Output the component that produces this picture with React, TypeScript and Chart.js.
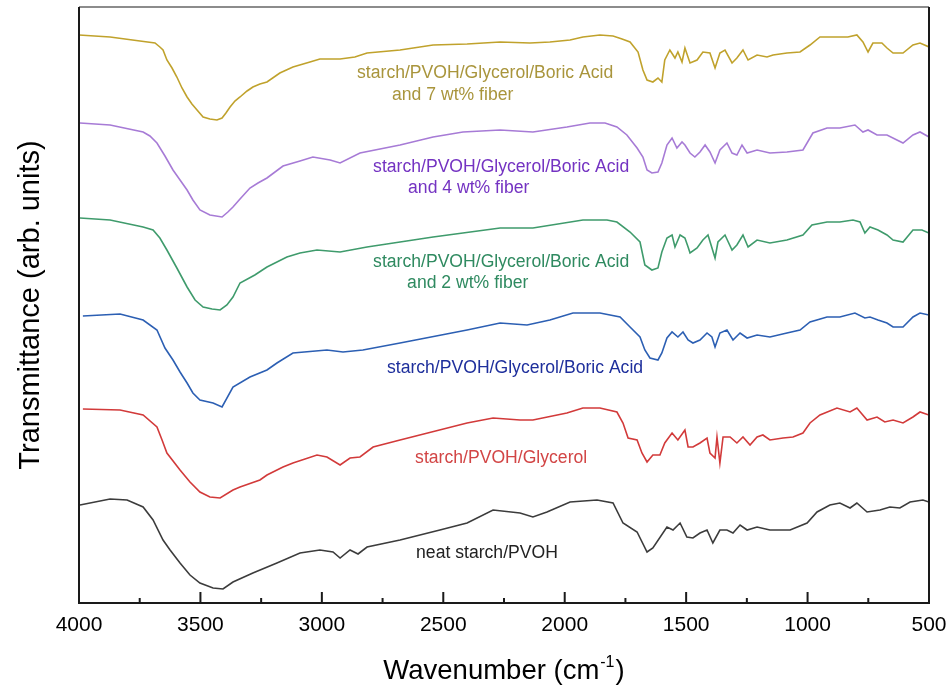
import React, { useEffect, useRef } from "react";
import { Chart, registerables } from "chart.js";

Chart.register(...registerables);

const FONT = '"Liberation Sans", Arial, Helvetica, sans-serif';

// x range / tick labels (wavenumber, cm^-1)
const xMin = 500;
const xMax = 4000;
const majorTicks = [4000, 3500, 3000, 2500, 2000, 1500, 1000, 500];
const tickLabels = ["4000", "3500", "3000", "2500", "2000", "1500", "1000", "500"];
const minorTicks = [3750, 3250, 2750, 2250, 1750, 1250, 750];

// Each series: [wavenumber, transmittance (arb. units, offset stacked)]
const fiber7: [number, number][] = [
  [4000, 568], [3872, 566], [3749, 562], [3687, 560], [3667, 556], [3654, 553], [3638, 543], [3617, 535],
  [3597, 526], [3576, 515], [3555, 506], [3535, 499], [3514, 493], [3489, 486], [3461, 484], [3432, 483],
  [3411, 485], [3395, 490], [3378, 496], [3358, 502], [3337, 506], [3308, 512], [3284, 516], [3255, 519],
  [3226, 521], [3173, 530], [3119, 536], [3049, 541], [3008, 544], [2925, 544], [2864, 546], [2814, 550],
  [2678, 553], [2542, 558], [2402, 559], [2266, 561], [2143, 560], [2061, 561], [1978, 563], [1925, 566],
  [1855, 568], [1801, 567], [1764, 564], [1731, 561], [1698, 551], [1678, 533],
  [1661, 523], [1637, 521], [1616, 525], [1600, 521], [1588, 543], [1567, 553], [1546, 545], [1534, 551],
  [1517, 541], [1505, 555], [1484, 540], [1455, 543], [1431, 551], [1402, 550], [1381, 535], [1361, 550],
  [1340, 553], [1311, 540], [1291, 545], [1266, 553], [1245, 543], [1208, 548], [1167, 546], [1142, 548],
  [1085, 550], [1031, 551], [990, 558], [949, 566], [895, 566], [834, 566], [797, 568], [772, 561],
  [751, 551], [731, 560], [694, 560], [673, 555], [648, 550], [607, 550], [566, 558], [537, 560], [500, 556],
];

const fiber4: [number, number][] = [
  [3996, 480], [3872, 478], [3736, 471], [3708, 467], [3679, 460], [3646, 447], [3613, 433], [3584, 423],
  [3555, 413], [3531, 403], [3502, 393], [3461, 388], [3411, 386], [3387, 391], [3366, 396], [3337, 404],
  [3296, 415], [3263, 420], [3226, 425], [3160, 437], [3090, 442], [3037, 446], [2966, 443],
  [2925, 440], [2843, 450], [2678, 458], [2542, 466], [2419, 471], [2266, 473], [2131, 471], [1991, 476],
  [1896, 480], [1834, 480], [1785, 476], [1744, 468], [1702, 455], [1678, 446], [1661, 433], [1641, 430],
  [1616, 431], [1600, 440], [1579, 458], [1558, 465], [1538, 455], [1517, 461], [1505, 458], [1484, 450],
  [1464, 446], [1443, 451], [1422, 458], [1402, 451], [1381, 440], [1361, 453], [1332, 460], [1311, 450],
  [1291, 448], [1270, 458], [1249, 450], [1208, 453], [1155, 450], [1085, 451], [1019, 453], [978, 470],
  [920, 475], [867, 475], [805, 478], [772, 471], [751, 473], [714, 468], [673, 468], [632, 463],
  [607, 460], [566, 468], [537, 471], [500, 466],
];

const fiber2: [number, number][] = [
  [3996, 385], [3872, 383], [3736, 376], [3695, 373], [3667, 365], [3638, 353], [3597, 335], [3555, 316],
  [3522, 303], [3489, 296], [3452, 294], [3419, 293], [3391, 298], [3366, 306], [3337, 320], [3276, 328],
  [3226, 336], [3144, 346], [3090, 350], [3020, 353], [2925, 351],
  [2814, 356], [2542, 366], [2266, 375], [2131, 375], [1925, 383], [1826, 383], [1785, 381], [1731, 371],
  [1690, 361], [1670, 338], [1641, 333], [1616, 335], [1600, 351], [1579, 365], [1558, 368], [1546, 356],
  [1525, 368], [1505, 365], [1492, 356], [1484, 350], [1455, 355], [1431, 363], [1410, 368], [1381, 345],
  [1369, 361], [1340, 368], [1311, 353], [1291, 358], [1266, 368], [1245, 356], [1208, 363], [1155, 360],
  [1085, 363], [1019, 368], [982, 378], [920, 381], [867, 381], [813, 383], [784, 381], [764, 370],
  [743, 376], [710, 373], [673, 368], [648, 363], [607, 361], [566, 373], [529, 373], [500, 370],
];

const boricAcid: [number, number][] = [
  [3984, 287], [3831, 289], [3736, 283], [3679, 273], [3646, 255], [3613, 243], [3584, 231], [3555, 220],
  [3531, 210], [3502, 203], [3448, 200],
  [3411, 196], [3366, 216], [3296, 226], [3226, 233], [3185, 240], [3119, 250], [2979, 253], [2913, 251],
  [2831, 253], [2678, 260], [2402, 273], [2266, 280], [2155, 278], [2061, 283], [1966, 290], [1855, 290],
  [1772, 286], [1731, 276], [1690, 266], [1670, 253], [1649, 245], [1616, 243], [1600, 250], [1579, 265],
  [1558, 271], [1534, 266], [1513, 271], [1492, 263], [1472, 260], [1443, 263], [1414, 270], [1394, 266],
  [1381, 256], [1361, 270], [1332, 273], [1307, 263], [1278, 270], [1249, 265], [1208, 268], [1155, 266],
  [1085, 270], [1031, 273], [990, 281], [920, 286], [867, 286], [805, 290], [764, 285], [743, 286],
  [710, 283], [673, 280], [648, 276], [607, 276], [566, 286], [537, 290], [500, 288],
];

const glycerol: [number, number][] = [
  [3984, 194], [3831, 193], [3736, 188], [3679, 176], [3658, 163], [3638, 150], [3584, 133], [3543, 121],
  [3502, 111], [3461, 106], [3419, 105],
  [3366, 113], [3337, 116], [3255, 123], [3226, 128], [3160, 136], [3119, 140], [3020, 148], [2979, 146],
  [2925, 138], [2884, 145], [2843, 146], [2789, 156], [2678, 163], [2402, 180], [2295, 185], [2184, 183],
  [2131, 183], [1991, 190], [1925, 195], [1855, 195], [1785, 191], [1760, 180], [1739, 165], [1702, 163],
  [1682, 150], [1661, 141], [1637, 148], [1608, 148], [1588, 160], [1558, 170], [1534, 163], [1505, 173],
  [1492, 156], [1472, 156], [1443, 160], [1414, 165], [1402, 150], [1381, 145], [1373, 166], [1361, 140],
  [1348, 166], [1319, 166], [1291, 160], [1266, 166], [1237, 158], [1208, 166], [1184, 168], [1155, 163],
  [1101, 165], [1060, 166], [1019, 170], [990, 180], [949, 188], [879, 195], [825, 191], [797, 195],
  [755, 183], [714, 186], [682, 181], [648, 183], [607, 180], [566, 186], [537, 191], [500, 188],
];

const neat: [number, number][] = [
  [3996, 98], [3872, 104], [3802, 103], [3736, 96], [3695, 83], [3654, 63], [3625, 53], [3584, 40],
  [3543, 28], [3502, 20],
  [3448, 15], [3407, 14], [3366, 21], [3284, 30], [3185, 40], [3090, 50], [3008, 53], [2954, 51],
  [2925, 45], [2884, 53], [2851, 49], [2814, 56], [2678, 63], [2514, 73], [2402, 80], [2295, 93],
  [2184, 90], [2131, 86], [2073, 91], [1978, 101], [1867, 103], [1801, 100], [1760, 80], [1702, 71],
  [1661, 51], [1637, 55], [1579, 76], [1554, 73], [1525, 80], [1497, 66], [1472, 65], [1443, 70],
  [1414, 73], [1390, 60], [1361, 73], [1332, 73], [1307, 70], [1278, 78], [1249, 73], [1208, 76],
  [1155, 73], [1072, 73], [1002, 80], [961, 91], [908, 98], [867, 100], [825, 95], [797, 100],
  [755, 91], [702, 93], [661, 96], [620, 95], [578, 101], [525, 103], [500, 101],
];

const seriesNames = [
  "starch/PVOH/Glycerol/Boric Acid and 7 wt% fiber",
  "starch/PVOH/Glycerol/Boric Acid and 4 wt% fiber",
  "starch/PVOH/Glycerol/Boric Acid and 2 wt% fiber",
  "starch/PVOH/Glycerol/Boric Acid",
  "starch/PVOH/Glycerol",
  "neat starch/PVOH",
];
const seriesData = [fiber7, fiber4, fiber2, boricAcid, glycerol, neat];
const lineColors = ["#c0a22c", "#a77bd6", "#3f9b6c", "#2c5fb3", "#d23a3a", "#3c3c3c"];

// annotation labels: text, anchor wavenumber (left edge), anchor transmittance (middle), colour
const labelTexts = [
  "starch/PVOH/Glycerol/Boric Acid", "and 7 wt% fiber",
  "starch/PVOH/Glycerol/Boric Acid", "and 4 wt% fiber",
  "starch/PVOH/Glycerol/Boric Acid", "and 2 wt% fiber",
  "starch/PVOH/Glycerol/Boric Acid",
  "starch/PVOH/Glycerol",
  "neat starch/PVOH",
];
const labelWn = [2855, 2711, 2789, 2645, 2789, 2649, 2732, 2616, 2612];
const labelT = [530, 508, 436, 415, 341, 320, 235, 145, 50];
const labelColors = ["#a9953c", "#a9953c", "#7433c2", "#7433c2", "#2f8a60", "#2f8a60", "#1e2f9c", "#d24545", "#222222"];

const yTitle = "Transmittance (arb. units)";
const xTitleMain = "Wavenumber (cm";
const xTitleSup = "-1";
const xTitleEnd = ")";

const decorPlugin = {
  id: "decor",
  afterDraw(chart: any) {
    const { ctx, chartArea } = chart;
    const xs = chart.scales.x;
    const ys = chart.scales.y;
    const { left, right, top, bottom } = chartArea;
    ctx.save();
    // frame
    ctx.strokeStyle = "#1a1a1a";
    ctx.lineWidth = 1.2;
    ctx.beginPath();
    ctx.moveTo(left, top);
    ctx.lineTo(right, top);
    ctx.stroke();
    ctx.lineWidth = 2;
    ctx.beginPath();
    ctx.moveTo(left, top);
    ctx.lineTo(left, bottom);
    ctx.lineTo(right, bottom);
    ctx.lineTo(right, top);
    ctx.stroke();
    // inward ticks
    ctx.lineWidth = 2;
    ctx.beginPath();
    majorTicks.forEach((v) => {
      const px = xs.getPixelForValue(v);
      ctx.moveTo(px, bottom);
      ctx.lineTo(px, bottom - 11);
    });
    minorTicks.forEach((v) => {
      const px = xs.getPixelForValue(v);
      ctx.moveTo(px, bottom);
      ctx.lineTo(px, bottom - 5);
    });
    ctx.stroke();

    // tick labels
    ctx.fillStyle = "#000";
    ctx.font = `21px ${FONT}`;
    ctx.textAlign = "center";
    ctx.textBaseline = "middle";
    majorTicks.forEach((v, i) => {
      ctx.fillText(tickLabels[i], xs.getPixelForValue(v), bottom + 22);
    });

    // labels
    ctx.font = `17.6px ${FONT}`;
    ctx.textAlign = "left";
    ctx.textBaseline = "middle";
    labelTexts.forEach((t, i) => {
      ctx.fillStyle = labelColors[i];
      ctx.fillText(t, xs.getPixelForValue(labelWn[i]), ys.getPixelForValue(labelT[i]));
    });

    // y title
    ctx.fillStyle = "#000";
    ctx.font = `29px ${FONT}`;
    ctx.textAlign = "center";
    ctx.textBaseline = "middle";
    ctx.save();
    ctx.translate(31, (top + bottom) / 2);
    ctx.rotate(-Math.PI / 2);
    ctx.fillText(yTitle, 0, 0);
    ctx.restore();

    // x title with superscript
    const big = `27.5px ${FONT}`;
    const small = `16px ${FONT}`;
    ctx.textAlign = "left";
    ctx.textBaseline = "alphabetic";
    ctx.font = big;
    const w1 = ctx.measureText(xTitleMain).width;
    const w3 = ctx.measureText(xTitleEnd).width;
    ctx.font = small;
    const w2 = ctx.measureText(xTitleSup).width;
    const total = w1 + w2 + w3 + 2;
    let x0 = (left + right) / 2 - total / 2;
    const base = 679;
    ctx.font = big;
    ctx.fillText(xTitleMain, x0, base);
    x0 += w1 + 1;
    ctx.font = small;
    ctx.fillText(xTitleSup, x0, base - 12);
    x0 += w2 + 1;
    ctx.font = big;
    ctx.fillText(xTitleEnd, x0, base);
    ctx.restore();
  },
};

export default function App() {
  const ref = useRef<HTMLCanvasElement | null>(null);
  useEffect(() => {
    document.body.style.margin = "0";
    if (!ref.current) return;
    const chart = new Chart(ref.current, {
      type: "line",
      data: {
        datasets: seriesData.map((s, i) => ({
          label: seriesNames[i],
          data: s.map(([x, y]) => ({ x, y })),
          borderColor: lineColors[i],
          borderWidth: 1.6,
          pointRadius: 0,
          tension: 0,
          fill: false,
        })),
      },
      options: {
        animation: false,
        responsive: false,
        maintainAspectRatio: false,
        layout: { padding: { top: 7, right: 22, left: 0, bottom: 0 } },
        plugins: { legend: { display: false }, tooltip: { enabled: false } },
        scales: {
          x: {
            type: "linear",
            reverse: true,
            min: xMin,
            max: xMax,
            grid: { display: false, drawTicks: false },
            border: { display: false },
            ticks: { display: false },
            afterFit: (s: any) => {
              s.height = 84;
            },
          },
          y: {
            type: "linear",
            min: 0,
            max: 596,
            grid: { display: false, drawTicks: false },
            border: { display: false },
            ticks: { display: false },
            afterFit: (s: any) => {
              s.width = 79;
            },
          },
        },
      },
      plugins: [decorPlugin],
    });
    return () => chart.destroy();
  }, []);
  return (
    <div style={{ width: 951, height: 687 }}>
      <canvas ref={ref} width={951} height={687} style={{ display: "block" }} />
    </div>
  );
}
